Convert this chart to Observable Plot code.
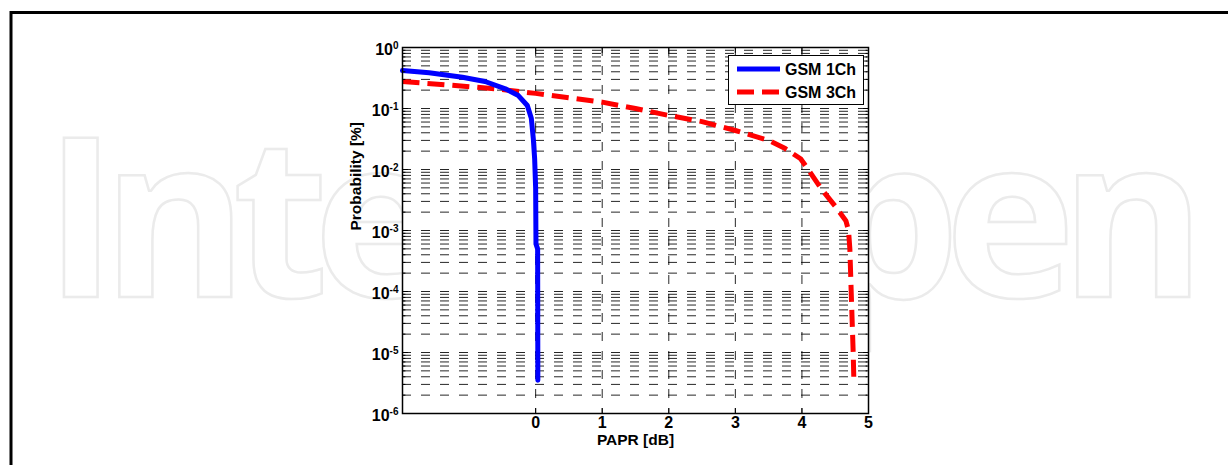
<!DOCTYPE html>
<html><head><meta charset="utf-8">
<script src="https://cdn.jsdelivr.net/npm/d3@7"></script>
<script src="https://cdn.jsdelivr.net/npm/@observablehq/plot@0.6"></script>
<style>
html,body{margin:0;padding:0;background:#fff;}
#chart{position:relative;width:1228px;height:465px;overflow:hidden;}
svg{display:block;}
</style></head><body><div id="chart"></div>
<script>
// ---- data ----
const seriesNames = ["GSM 1Ch", "GSM 3Ch"];
const seriesColors = ["#0000ff", "#ff0000"];
const gsm1X = [-2.0, -1.6, -1.1, -0.76, -0.455, -0.26, -0.125, -0.065, -0.035, -0.015, 0.0, 0.005, 0.03, 0.033];
const gsm1Y = [0.42, 0.385, 0.326, 0.277, 0.21, 0.163, 0.112, 0.069, 0.032, 0.015, 0.005, 6e-4, 5e-4, 3.5e-6];
const gsm3X = [-2, -1.35, -0.6, 0, 0.5, 1, 1.5, 2, 2.5, 3, 3.5, 3.75, 3.98, 4.1, 4.28, 4.5, 4.58, 4.66, 4.70, 4.72, 4.74, 4.77, 4.78];
const gsm3Y = [0.277, 0.245, 0.21, 0.177, 0.15, 0.127, 0.1, 0.077, 0.061, 0.0436, 0.03, 0.022, 0.015, 0.0098, 0.005, 0.0025, 0.0019, 0.00145, 0.001, 5e-4, 1e-4, 1e-5, 3.5e-6];
const xTicks = [0, 1, 2, 3, 4, 5];
const xGrid = [0, 1, 2, 3, 4];
const yExponents = [0, -1, -2, -3, -4, -5, -6];
const xLabel = "PAPR [dB]";
const yLabel = "Probability [%]";
const watermark = "IntechOpen";

// ---- derived ----
const gsm1 = gsm1X.map((x, i) => ({x, y: gsm1Y[i]}));
const gsm3 = gsm3X.map((x, i) => ({x, y: gsm3Y[i]}));
const majors = yExponents.map(e => Math.pow(10, e));
const minors = [];
for (const e of yExponents) if (e < 0) for (let m = 2; m <= 9; m++) minors.push(m * Math.pow(10, e));

const F = "'Liberation Sans', Arial, Helvetica, sans-serif";
const tickShape = {draw(ctx, l) { ctx.moveTo(0, 0); ctx.lineTo(0, -l); }};
const tk = (data, opts) => Plot.vector(data, {anchor: "start", shape: tickShape, stroke: "#000", fill: "none", strokeWidth: 1, ...opts});

const plot = Plot.plot({
  width: 1228, height: 465,
  marginLeft: 402, marginRight: 360, marginTop: 47, marginBottom: 52,
  style: {fontFamily: F, background: "transparent", overflow: "visible", color: "#000"},
  x: {domain: [-2, 5], axis: null},
  y: {type: "log", domain: [1e-6, 1], axis: null},
  marks: [
    Plot.frame({fill: "white", stroke: null}),
    Plot.ruleY([...minors, ...majors], {stroke: "#000", strokeWidth: 1, strokeDasharray: "9,10", strokeOpacity: 0.85}),
    Plot.ruleX(xGrid, {stroke: "#000", strokeWidth: 1, strokeDasharray: "9,10", strokeOpacity: 0.85}),
    Plot.line(gsm3, {x: "x", y: "y", stroke: seriesColors[1], strokeWidth: 5, strokeDasharray: "17,8", strokeLinecap: "butt"}),
    Plot.line(gsm1, {x: "x", y: "y", stroke: seriesColors[0], strokeWidth: 5}),
    tk(majors, {y: d => d, frameAnchor: "left", rotate: 90, length: 5}),
    tk(minors, {y: d => d, frameAnchor: "left", rotate: 90, length: 2.5}),
    tk(majors, {y: d => d, frameAnchor: "right", rotate: -90, length: 5}),
    tk(minors, {y: d => d, frameAnchor: "right", rotate: -90, length: 2.5}),
    tk(xTicks, {x: d => d, frameAnchor: "bottom", rotate: 0, length: 5}),
    tk(xTicks, {x: d => d, frameAnchor: "top", rotate: 180, length: 5}),
    Plot.frame({stroke: "#000", strokeWidth: 1.5}),
    Plot.text(yExponents, {y: e => Math.pow(10, e), text: e => String(e), frameAnchor: "left", dx: -4, dy: 2, textAnchor: "end", fontSize: 16, fontWeight: "bold", className: "ylab"}),
    Plot.text(xTicks, {x: d => d, text: d => String(d), frameAnchor: "bottom", dy: 14.5, fontSize: 16, fontWeight: "bold"}),
    Plot.text([xLabel], {frameAnchor: "bottom", dy: 31, fontSize: 15.5, fontWeight: "bold"}),
    Plot.text([yLabel], {frameAnchor: "left", dx: -46, rotate: -90, fontSize: 15.5, fontWeight: "bold"})
  ]
});

const svg = d3.select(plot);
// superscript exponents
svg.selectAll(".ylab text").each(function() {
  const e = this.textContent;
  const t = d3.select(this);
  t.text(null);
  t.append("tspan").text("10");
  t.append("tspan").attr("dy", "-0.6em").attr("font-size", "10px").text(e);
});

// watermark behind everything
svg.insert("text", ":first-child")
  .attr("x", 44).attr("y", 297)
  .attr("text-anchor", "start")
  .attr("font-family", "'Open Sans', 'Noto Sans', sans-serif")
  .attr("font-weight", 700)
  .attr("font-size", 222)
  .attr("textLength", 1162).attr("lengthAdjust", "spacing")
  .attr("fill", "none").attr("stroke", "#ebebeb").attr("stroke-width", 2.5)
  .text(watermark);

// legend
const lg = svg.append("g").attr("font-family", F).attr("font-weight", "bold").attr("font-size", 16).attr("text-anchor", "start");
lg.append("rect").attr("x", 728.5).attr("y", 55.5).attr("width", 135).attr("height", 49)
  .attr("fill", "white").attr("stroke", "#000").attr("stroke-width", 1);
const rows = [69, 92];
seriesNames.forEach((n, i) => {
  lg.append("line").attr("x1", 737).attr("x2", 780).attr("y1", rows[i]).attr("y2", rows[i])
    .attr("stroke", seriesColors[i]).attr("stroke-width", 5)
    .attr("stroke-dasharray", i === 1 ? "17,8" : null);
  lg.append("text").attr("x", 785).attr("y", rows[i]).attr("dy", "0.35em").text(n);
});

// outer frame
svg.append("path").attr("d", "M11,465V12.5H1228").attr("fill", "none").attr("stroke", "#000").attr("stroke-width", 3);

document.getElementById("chart").appendChild(plot);
</script>
</body></html>
